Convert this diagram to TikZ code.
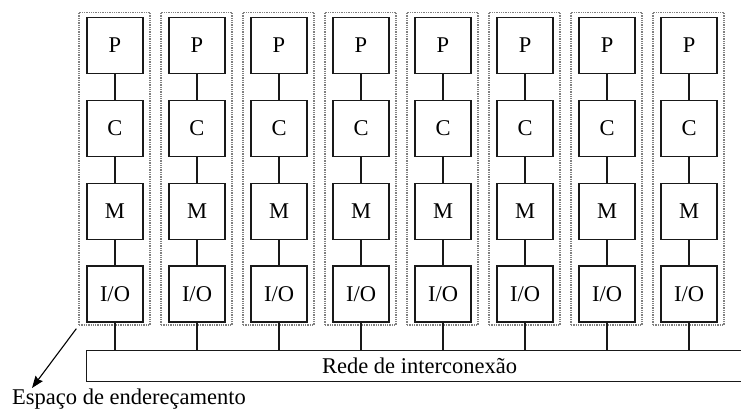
\documentclass[tikz,border=0pt]{standalone}
\usepackage{fontspec}
\setmainfont{Liberation Serif}
\usetikzlibrary{arrows.meta,positioning}

\begin{document}
\begin{tikzpicture}[x=1pt,y=-1pt,font=\fontsize{22.5}{26}\selectfont,
  unit/.style={draw=black!90,line width=1.1pt,minimum size=56pt,inner sep=0pt},
  addrspace/.style={draw=black!50,line width=1.3pt,densely dotted,
    minimum width=71pt,minimum height=312.7pt,inner sep=0pt},
  link/.style={draw=black!90,line width=1.1pt},
  pointer/.style={line width=1.1pt,-{Stealth[length=12pt,width=9pt,inset=1.5pt]}}]
  \useasboundingbox (0,0) rectangle (741,410);
  % Interconnection bus, running off the right edge.
  \node[unit,minimum width=666pt,minimum height=30.7pt,anchor=north west]
    (bus) at (86,350) {Rede de interconexão};
  % Eight processing columns.
  \foreach \i in {0,...,7}{
    \node[addrspace] (as\i) at (114.5+82*\i,168.65) {};
    \node[unit] (p\i) at (115+82*\i,45.3) {P};
    \node[unit,below=25.8pt of p\i] (c\i) {C};
    \node[unit,below=25.8pt of c\i] (m\i) {M};
    \node[unit,below=25.8pt of m\i] (io\i) {I/O};
    \draw[link] (p\i) -- (c\i);
    \draw[link] (c\i) -- (m\i);
    \draw[link] (m\i) -- (io\i);
    \draw[link] (io\i) -- (io\i |- bus.north);
  }
  % Address-space callout.
  \coordinate (tip) at (32,388);
  \draw[pointer] ([shift={(-2,3)}]as0.south west) -- (tip);
  \node[anchor=west,inner sep=0pt] (addrlabel) at (12,399) {Espaço de endereçamento};
\end{tikzpicture}
\end{document}
